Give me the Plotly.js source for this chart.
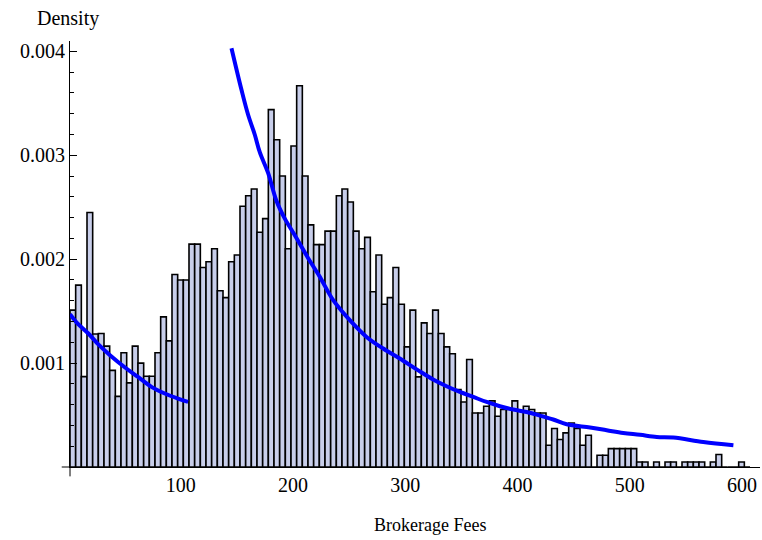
<!DOCTYPE html>
<html>
<head>
<meta charset="utf-8">
<script src="https://cdn.plot.ly/plotly-3.0.1.min.js"></script>
<style>html,body{margin:0;padding:0;background:#fff;}#chart{width:762px;height:540px;}</style>
</head>
<body>
<div id="chart"></div>
<script>
// Histogram: equal-width bins starting at binStart; density values (per bin)
const binStart = 1.34;
const binWidth = 5.048;
const density = [
  0.00151, 0.00175, 0.00087, 0.00245, 0.00128, 0.001285, 0.001163, 0.00093, 0.00068, 0.00110,
  0.00081, 0.001163, 0.00100, 0.000874, 0.000874, 0.00110, 0.001445, 0.001214, 0.001853, 0.00180,
  0.00180, 0.002145, 0.002145, 0.00192, 0.001975, 0.00210, 0.001696, 0.00163, 0.001975, 0.00204,
  0.00251, 0.00261, 0.002675, 0.00226, 0.00239, 0.00344, 0.00315, 0.00280, 0.00210, 0.00309,
  0.00367, 0.00280, 0.00233, 0.00214, 0.00214, 0.00227, 0.00227, 0.00261, 0.002675, 0.00255,
  0.00227, 0.00210, 0.00221, 0.001686, 0.00204, 0.001567, 0.00163, 0.00192, 0.001567, 0.001156,
  0.00151, 0.000867, 0.001387, 0.001285, 0.00151, 0.001285, 0.001156, 0.00109, 0.000745, 0.000626,
  0.001035, 0.00052, 0.00052, 0.000585, 0.000636, 0.000488, 0.000553, 0.000553, 0.000636, 0.00054,
  0.000585, 0.000553, 0.00052, 0.00052, 0.000209, 0.00037, 0.000264, 0.000328, 0.000424, 0.00037,
  0.00021, 0.000305, 0, 0.000113, 0.000113, 0.000177, 0.000177, 0.000177, 0.000177, 0.000177,
  0.000048, 0.000048, 0, 0.000048, 0, 0.000048, 0.000048, 0, 0.000048, 0.000048,
  0.000048, 0.000048, 0, 0.000048, 0.00012, 0, 0, 0, 0.000048, 0
];

// Fitted density curve, two pieces
const curve1X = [1.34, 7.29, 17.69, 26.58, 36.98, 50.1, 61.9, 73.93, 85.74, 97.55, 106.54];
const curve1Y = [0.00147, 0.00139, 0.001285, 0.00118, 0.001076, 0.00096, 0.000867, 0.000771, 0.000707, 0.000658, 0.000626];
const curve2X = [145.2, 154.1, 160.0, 165.9, 170.4, 177.8, 185.3, 192.7, 201.6, 213.5, 223.9, 235.8, 250.6, 265.5, 280.3, 295.1, 310.1, 324.8, 336.8, 348.6, 360.6, 372.5, 384.3, 396.2, 408.1, 419.9, 431.8, 443.8, 464.6, 479.4, 494.2, 509.1, 524.0, 538.8, 565.5, 592.3];
const curve2Y = [0.00403, 0.00363, 0.00339, 0.00320, 0.00303, 0.00283, 0.00256, 0.00239, 0.00223, 0.00201, 0.00183, 0.001606, 0.001413, 0.001252, 0.00114, 0.001044, 0.00094, 0.000842, 0.000777, 0.000722, 0.000674, 0.000626, 0.000585, 0.000553, 0.00053, 0.000495, 0.000457, 0.000411, 0.00038, 0.000354, 0.000328, 0.00031, 0.000289, 0.000283, 0.000241, 0.000209];

const xTicks = [100, 200, 300, 400, 500, 600];
const yTicks = [0.001, 0.002, 0.003, 0.004];
const yTickText = ["0.001", "0.002", "0.003", "0.004"];

const binCenters = density.map((_, i) => binStart + i * binWidth + binWidth / 2);

const traces = [
  {
    type: 'bar',
    x: binCenters,
    y: density,
    width: binWidth,
    marker: { color: 'rgb(200,206,234)', line: { color: '#000', width: 1.6 } },
    hoverinfo: 'skip'
  },
  {
    type: 'scatter', mode: 'lines',
    x: curve1X, y: curve1Y,
    line: { color: 'rgb(0,0,255)', width: 4, shape: 'spline' }
  },
  {
    type: 'scatter', mode: 'lines',
    x: curve2X, y: curve2Y,
    line: { color: 'rgb(0,0,255)', width: 4, shape: 'spline' }
  }
];

const serif = 'Liberation Serif, Times New Roman, serif';

const layout = {
  width: 762, height: 540,
  margin: { l: 70.3, r: 2, t: 40.7, b: 73.3, pad: 0 },
  paper_bgcolor: '#fff', plot_bgcolor: '#fff',
  showlegend: false,
  bargap: 0,
  font: { family: serif, size: 20, color: '#000' },
  xaxis: {
    range: [1.34, 616.0],
    showgrid: false, zeroline: false,
    showline: true, linecolor: '#000', linewidth: 1,
    tickmode: 'array', tickvals: xTicks, ticktext: xTicks.map(String),
    ticks: '', ticklen: 0,
    tickfont: { family: serif, size: 20, color: '#000' },
    layer: 'below traces'
  },
  yaxis: {
    range: [0, 0.0041],
    showgrid: false, zeroline: false,
    showline: true, linecolor: '#000', linewidth: 1,
    tickmode: 'array', tickvals: yTicks, ticktext: yTickText,
    ticks: 'inside', ticklen: 7, tickwidth: 1, tickcolor: '#000',
    minor: { tickmode: 'linear', tick0: 0, dtick: 0.0002, ticks: 'inside', ticklen: 4, tickwidth: 1, tickcolor: '#000' },
    tickfont: { family: serif, size: 20, color: '#000' },
    layer: 'above traces'
  },
  shapes: [
    { type: 'line', xref: 'paper', yref: 'paper', x0: 0, x1: 0, y0: 0, y1: -0.022, line: { color: '#000', width: 1 } },
    { type: 'line', xref: 'paper', yref: 'paper', x0: -0.012, x1: 0, y0: 0, y1: 0, line: { color: '#000', width: 1 } }
  ],
  annotations: [
    { text: 'Density', xref: 'paper', yref: 'paper', x: -0.0033, y: 1.053, xanchor: 'center', yanchor: 'middle', showarrow: false, font: { family: serif, size: 20, color: '#000' } },
    { text: 'Brokerage Fees', xref: 'paper', yref: 'paper', x: 0.5215, y: -0.137, xanchor: 'center', yanchor: 'middle', showarrow: false, font: { family: serif, size: 18, color: '#000' } }
  ]
};

Plotly.newPlot('chart', traces, layout, { staticPlot: true, displayModeBar: false });
</script>
</body>
</html>
